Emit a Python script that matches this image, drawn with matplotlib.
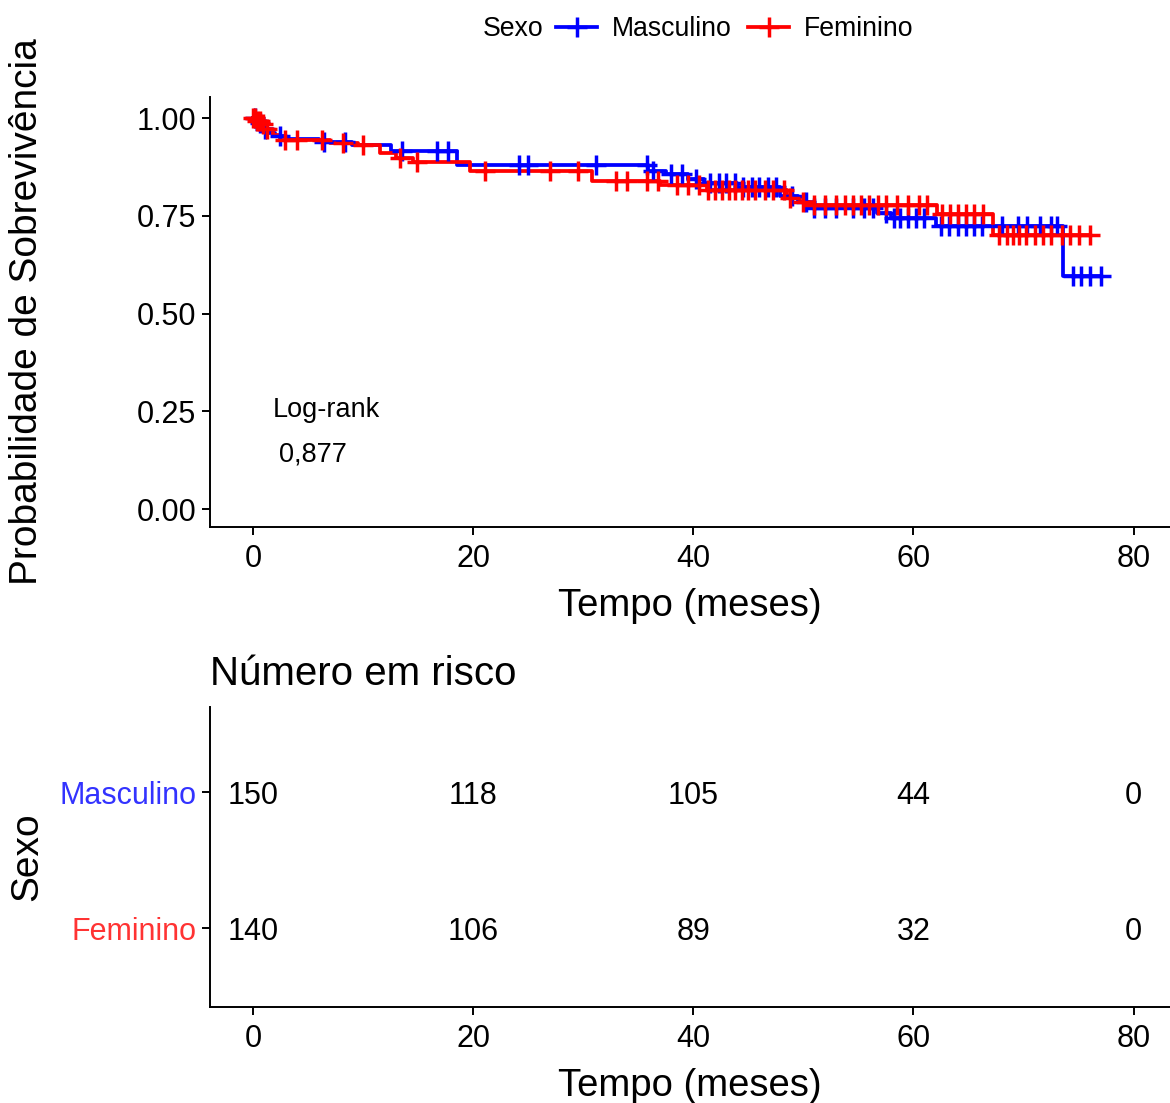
import matplotlib
matplotlib.use("Agg")
import matplotlib.pyplot as plt
import numpy as np
from matplotlib.lines import Line2D

plt.rcParams['font.family'] = ['Liberation Sans', 'DejaVu Sans']

# Kaplan-Meier steps (time in months, survival after the event)
masc_event_t = [0.5, 1.0, 1.5, 2.0, 3.0, 6.0, 9.0, 12.5, 18.5, 35.9, 37.5, 39.5,
                41.0, 44.0, 47.9, 49.5, 50.5, 56.7, 58.0, 62.0, 73.6]
masc_event_s = [0.987, 0.973, 0.962, 0.953, 0.946, 0.939, 0.932, 0.915, 0.88, 0.865,
                0.857, 0.845, 0.835, 0.825, 0.80, 0.785, 0.77, 0.757, 0.745, 0.723, 0.595]
masc_cens = [0.2, 0.6, 1.1, 2.5, 6.5, 8.4, 13.5, 16.7, 17.7, 24.2, 25.0, 31.2, 35.8,
             36.3, 38.0, 39.0, 40.2, 41.5, 42.3, 43.0, 43.8, 44.5, 45.3, 46.0, 46.8,
             47.5, 49.0, 50.2, 51.0, 52.0, 53.0, 54.5, 55.5, 56.3, 57.5, 58.2, 58.8,
             59.5, 60.2, 61.0, 62.5, 63.2, 64.0, 64.8, 65.5, 66.2, 68.0, 69.5, 70.3,
             71.5, 72.5, 73.0, 74.5, 75.2, 76.0, 77.0]

fem_event_t = [0.3, 0.8, 1.2, 1.8, 2.5, 7.0, 9.5, 11.5, 13.0, 14.5, 19.7, 30.8,
               37.0, 41.2, 48.5, 49.7, 51.0, 62.1, 67.2]
fem_event_s = [0.993, 0.986, 0.972, 0.958, 0.944, 0.937, 0.93, 0.91, 0.897, 0.887,
               0.864, 0.838, 0.83, 0.815, 0.795, 0.785, 0.777, 0.755, 0.70]
fem_cens = [0.0, 0.2, 0.4, 0.6, 0.9, 1.3, 2.9, 4.0, 6.3, 8.2, 10.0, 13.4, 14.9, 21.1,
            27.0, 29.5, 33.0, 34.0, 35.8, 36.8, 38.5, 39.5, 40.5, 41.3, 42.0, 42.6,
            43.2, 43.8, 44.4, 45.0, 45.6, 46.5, 47.2, 48.2, 48.8, 50.0, 51.0, 52.0,
            53.0, 53.8, 54.5, 55.2, 56.0, 56.8, 57.5, 58.5, 59.5, 60.5, 61.2, 62.6,
            63.3, 64.0, 64.8, 65.5, 66.3, 67.8, 68.5, 69.0, 69.6, 70.2, 71.0, 71.8,
            72.5, 73.5, 74.2, 75.0, 76.0]

# number at risk table
risk_times = [0, 20, 40, 60, 80]
masc_risk = [150, 118, 105, 44, 0]
fem_risk = [140, 106, 89, 32, 0]

groups = ['Masculino', 'Feminino']
colors = ['#0000FF', '#FF0000']
label_colors = ['#3333FF', '#FF3333']


def km_at(times, ev_t, ev_s):
    ev_t = np.asarray(ev_t)
    ev_s = np.concatenate([[1.0], ev_s])
    idx = np.searchsorted(ev_t, times, side='right')
    return ev_s[idx]


fig = plt.figure(figsize=(11.70, 11.03), dpi=100)
ax = fig.add_axes([210 / 1170, 1 - 527 / 1103, 1 - 210 / 1170, 430 / 1103])
tb = fig.add_axes([210 / 1170, 1 - 1007 / 1103, 1 - 210 / 1170, 300 / 1103])

curves = [(masc_event_t, masc_event_s, masc_cens), (fem_event_t, fem_event_s, fem_cens)]
for (et, es, ct), col in zip(curves, colors):
    t_end = max(ct)
    xs = np.concatenate([[0], et, [t_end]])
    ys = np.concatenate([[1.0], es, [es[-1]]])
    ax.step(xs, ys, where='post', color=col, lw=2.7, zorder=3)
    ax.plot(ct, km_at(ct, et, es), ls='none', marker='+', ms=14, mew=2.5,
            color=col, zorder=4)

ax.set_xlim(-3.9, 83.3)
ax.set_ylim(-0.046, 1.054)
ax.set_xticks([0, 20, 40, 60, 80])
ax.set_yticks([0, 0.25, 0.5, 0.75, 1.0])
ax.set_yticklabels(['0.00', '0.25', '0.50', '0.75', '1.00'])
ax.set_xlabel('Tempo (meses)', fontsize=27.5, labelpad=10)
ax.set_ylabel('Probabilidade de Sobrevivência', fontsize=28)
ax.yaxis.set_label_coords(-0.172, 0.5)
ax.text(1.8, 0.253, 'Log-rank', fontsize=19.5, va='center', ha='left')
ax.text(2.4, 0.14, '0,877', fontsize=19.5, va='center', ha='left')

# risk table
for vals, ypos in zip([masc_risk, fem_risk], [2, 1]):
    for t, v in zip(risk_times, vals):
        tb.text(t, ypos, str(v), fontsize=22, ha='center', va='center_baseline')
tb.set_xlim(-3.9, 83.3)
tb.set_ylim(0.42, 2.625)
tb.set_xticks(risk_times)
tb.set_yticks([2, 1])
tb.set_yticklabels(groups)
tb.set_xlabel('Tempo (meses)', fontsize=27.5, labelpad=10)
tb.set_ylabel('Sexo', fontsize=28)
tb.yaxis.set_label_coords(-0.172, 0.5)
tb.set_title('Número em risco', loc='left', fontsize=29, pad=16)

for a in (ax, tb):
    for s in ['top', 'right']:
        a.spines[s].set_visible(False)
    for s in ['left', 'bottom']:
        a.spines[s].set_linewidth(1.4)
    a.tick_params(axis='both', labelsize=22, width=1.4, length=6, pad=6, colors='black')
    a.tick_params(axis='y', pad=4)
for lab, c in zip(tb.get_yticklabels(), label_colors):
    lab.set_color(c)

# legend with inline title
fig.text(483 / 1170, 1 - 29 / 1103, 'Sexo', fontsize=19.2, va='center', ha='left')
handles = [Line2D([], [], color=c, lw=2.7, marker='+', ms=14, mew=2.5) for c in colors]
fig.legend(handles, groups, loc='center left', bbox_to_anchor=(556 / 1170, 1 - 29 / 1103),
           ncol=2, frameon=False, fontsize=19.2, handlelength=1.55, handletextpad=0.55,
           columnspacing=0.6, borderpad=0, borderaxespad=0)

fig.savefig('out.png', dpi=100)
